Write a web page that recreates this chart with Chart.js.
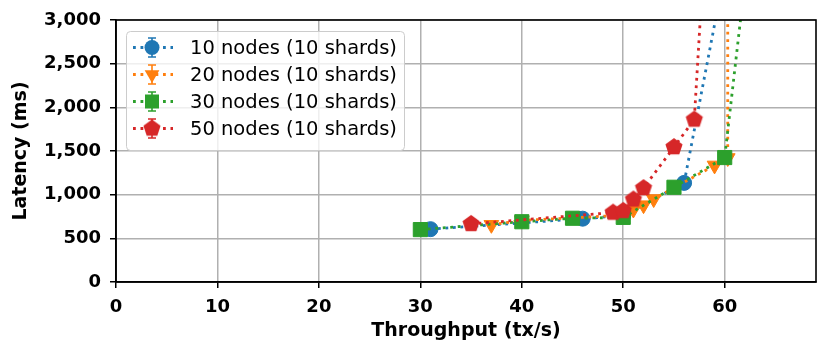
<!DOCTYPE html>
<html><head><meta charset="utf-8">
<script src="https://cdn.jsdelivr.net/npm/chart.js@4.4.0/dist/chart.umd.min.js"></script>
<style>html,body{margin:0;padding:0;background:#fff}#wrap{width:830px;height:356px}</style>
</head><body><div id="wrap"><canvas id="c" width="830" height="356"></canvas></div>
<script>
// ---- data ----
const seriesLabels = ['10 nodes (10 shards)', '20 nodes (10 shards)', '30 nodes (10 shards)', '50 nodes (10 shards)'];
const seriesColors = ['#1f77b4', '#ff7f0e', '#2ca02c', '#d62728'];

const nodes10X = [31, 46, 50, 56, 60];
const nodes10Y = [605, 725, 760, 1135, 3550];

const nodes20X = [37, 40, 50, 51, 52, 53, 59, 60.3, 60.3];
const nodes20Y = [655, 705, 765, 830, 880, 950, 1335, 1420, 5000];

const nodes30X = [30, 40, 45, 50, 55, 60, 62];
const nodes30Y = [600, 690, 730, 740, 1085, 1425, 3450];

const nodes50X = [35, 49, 50, 51, 52, 55, 57, 58];
const nodes50Y = [665, 795, 815, 945, 1075, 1545, 1860, 3800];

const xTickValues = [0, 10, 20, 30, 40, 50, 60];
const xMin = 0, xMax = 69;
const yMin = 0, yMax = 3000, yStep = 500;
const xTitle = 'Throughput (tx/s)';
const yTitle = 'Latency (ms)';

// ---- marker helpers ----
function makePentagon(color, r) {
  const c = document.createElement('canvas');
  const s = Math.ceil(r * 2 + 4);
  c.width = s; c.height = s;
  const g = c.getContext('2d');
  g.fillStyle = color;
  g.beginPath();
  for (let k = 0; k < 5; k++) {
    const a = -Math.PI / 2 + k * 2 * Math.PI / 5;
    const px = s / 2 + r * Math.cos(a), py = s / 2 + r * Math.sin(a);
    if (k === 0) g.moveTo(px, py); else g.lineTo(px, py);
  }
  g.closePath(); g.fill();
  return c;
}
const pentagon = makePentagon(seriesColors[3], 9);

function pts(xs, ys) { return xs.map((x, i) => ({x: x, y: ys[i]})); }

const markerKinds = ['circle', 'triangleDown', 'square', 'pentagon'];
const dash = [2.8, 4.7];

function mkDataset(i, xs, ys, style, radius, rotation, order) {
  return {
    label: seriesLabels[i],
    data: pts(xs, ys),
    borderColor: seriesColors[i],
    backgroundColor: seriesColors[i],
    pointBackgroundColor: seriesColors[i],
    pointBorderColor: seriesColors[i],
    pointBorderWidth: 1,
    borderWidth: 2.8,
    borderDash: dash,
    pointStyle: style,
    pointRadius: radius,
    pointHoverRadius: radius,
    pointRotation: rotation,
    tension: 0,
    fill: false,
    order: order,
    markerKind: markerKinds[i]
  };
}

const datasets = [
  mkDataset(0, nodes10X, nodes10Y, 'circle', 7.5, 0, 4),
  mkDataset(1, nodes20X, nodes20Y, 'triangle', 8.5, 180, 3),
  mkDataset(2, nodes30X, nodes30Y, 'rect', 10, 0, 2),
  mkDataset(3, nodes50X, nodes50Y, pentagon, 9, 0, 1)
];

function drawMarker(ctx, kind, x, y, color) {
  ctx.fillStyle = color;
  ctx.beginPath();
  if (kind === 'circle') {
    ctx.arc(x, y, 7.5, 0, Math.PI * 2);
    ctx.fill();
  } else if (kind === 'triangleDown') {
    const r = 8.5;
    ctx.moveTo(x, y + r);
    ctx.lineTo(x - r * Math.sqrt(3) / 2, y - r / 2);
    ctx.lineTo(x + r * Math.sqrt(3) / 2, y - r / 2);
    ctx.closePath(); ctx.fill();
  } else if (kind === 'square') {
    ctx.rect(x - 7, y - 7, 14, 14); ctx.fill();
  } else {
    ctx.drawImage(pentagon, x - pentagon.width / 2, y - pentagon.height / 2);
  }
}

const boxPlugin = {
  id: 'spineBox',
  afterDatasetsDraw(chart) {
    const a = chart.chartArea, ctx = chart.ctx;
    ctx.save();
    ctx.strokeStyle = '#000'; ctx.lineWidth = 1.6; ctx.setLineDash([]);
    ctx.strokeRect(a.left, a.top, a.right - a.left, a.bottom - a.top);
    ctx.restore();
  }
};

const legendPlugin = {
  id: 'mplLegend',
  afterDraw(chart) {
    const ctx = chart.ctx;
    const x0 = 126.5, y0 = 31.5, w = 278, h = 119, rr = 4;
    ctx.save();
    ctx.beginPath();
    ctx.moveTo(x0 + rr, y0);
    ctx.lineTo(x0 + w - rr, y0); ctx.quadraticCurveTo(x0 + w, y0, x0 + w, y0 + rr);
    ctx.lineTo(x0 + w, y0 + h - rr); ctx.quadraticCurveTo(x0 + w, y0 + h, x0 + w - rr, y0 + h);
    ctx.lineTo(x0 + rr, y0 + h); ctx.quadraticCurveTo(x0, y0 + h, x0, y0 + h - rr);
    ctx.lineTo(x0, y0 + rr); ctx.quadraticCurveTo(x0, y0, x0 + rr, y0);
    ctx.closePath();
    ctx.fillStyle = 'rgba(255,255,255,0.8)'; ctx.fill();
    ctx.strokeStyle = '#cccccc'; ctx.lineWidth = 1; ctx.stroke();
    chart.data.datasets.forEach((ds, i) => {
      const cy = 47.5 + i * 27;
      const col = ds.borderColor;
      ctx.strokeStyle = col; ctx.lineWidth = 2.8; ctx.setLineDash(dash);
      ctx.beginPath(); ctx.moveTo(133, cy); ctx.lineTo(173, cy); ctx.stroke();
      ctx.setLineDash([]); ctx.lineWidth = 1.6;
      ctx.beginPath();
      ctx.moveTo(152, cy - 9.5); ctx.lineTo(152, cy + 9.5);
      ctx.moveTo(148, cy - 9.5); ctx.lineTo(156, cy - 9.5);
      ctx.moveTo(148, cy + 9.5); ctx.lineTo(156, cy + 9.5);
      ctx.stroke();
      drawMarker(ctx, ds.markerKind, 152, cy, col);
      ctx.fillStyle = '#000';
      ctx.font = '19.5px "DejaVu Sans"';
      ctx.textBaseline = 'middle'; ctx.textAlign = 'left';
      ctx.fillText(ds.label, 190, cy + 1);
    });
    ctx.restore();
  }
};

const tickFont = {family: 'DejaVu Sans', size: 18, weight: 'bold'};
const titleFont = {family: 'DejaVu Sans', size: 19, weight: 'bold'};

new Chart(document.getElementById('c'), {
  type: 'line',
  data: {datasets: datasets},
  plugins: [boxPlugin, legendPlugin],
  options: {
    responsive: false,
    animation: false,
    devicePixelRatio: 1,
    layout: {padding: {top: 20, right: 14, left: 0, bottom: 0}},
    plugins: {legend: {display: false}, tooltip: {enabled: false}},
    scales: {
      x: {
        type: 'linear', min: xMin, max: xMax,
        afterBuildTicks: s => { s.ticks = xTickValues.map(v => ({value: v})); },
        afterFit: s => { s.height = 74; },
        ticks: {font: tickFont, color: '#000', padding: 9, maxRotation: 0},
        grid: {color: '#b0b0b0', lineWidth: 1.5, tickColor: '#000', tickLength: 6, tickWidth: 1.5},
        border: {display: true, color: '#000', width: 1.6},
        title: {display: true, text: xTitle, font: titleFont, color: '#000', padding: {top: 0, bottom: 14}}
      },
      y: {
        min: yMin, max: yMax,
        ticks: {stepSize: yStep, font: tickFont, color: '#000', padding: 9,
          callback: v => Number(v).toLocaleString('en-US')},
        afterFit: s => { s.width = 116; },
        grid: {color: '#b0b0b0', lineWidth: 1.5, tickColor: '#000', tickLength: 6, tickWidth: 1.5},
        border: {display: true, color: '#000', width: 1.6},
        title: {display: true, text: yTitle, font: titleFont, color: '#000', padding: {top: 10, bottom: 0}}
      }
    }
  }
});
</script></body></html>
